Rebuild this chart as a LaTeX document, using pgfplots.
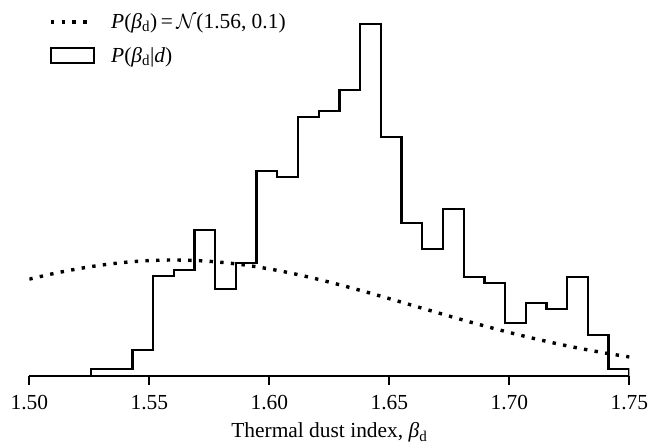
\documentclass[border=0pt]{standalone}
\usepackage{pgfplots}
\pgfplotsset{compat=1.18}
\usepackage{fontspec}
\setmainfont{Liberation Serif}

\newcommand{\bigfont}{\fontsize{21.5}{24}\selectfont}

\pgfplotsset{
    priorleg/.style={legend image code/.code={\draw[##1] (0bp,0bp) -- (41bp,0bp);}},
    histleg/.style={legend image code/.code={\draw[black, line width=2.4bp] (0bp,-7.5bp) rectangle (43bp,7.5bp);}},
}

\begin{document}
\begin{tikzpicture}
\begin{axis}[
    scale only axis,
    width=600bp, height=376bp,
    xmin=1.5, xmax=1.75,
    ymin=0, ymax=12.93,
    axis x line*=bottom,
    axis y line=none,
    ytick=\empty,
    xtick={1.50,1.55,1.60,1.65,1.70,1.75},
    xticklabel style={/pgf/number format/.cd, fixed, fixed zerofill, precision=2, assume math mode=true},
    tick label style={font=\bigfont, yshift=-7bp},
    label style={font=\bigfont},
    xlabel style={yshift=-6bp},
    tick align=outside,
    major tick length=9bp,
    x axis line style={line width=2.2bp, -},
    tick style={line width=2.2bp, black},
    xlabel={Thermal dust index, \textit{β}\textsubscript{d}},
    legend style={draw=none, fill=none, font=\bigfont,
        at={(axis description cs:0.033,0.967)}, anchor=north west,
        inner sep=0pt, row sep=15bp,
        nodes={inner sep=1bp},
        /tikz/every odd column/.append style={column sep=15bp}},
    legend cell align=left,
]

% prior N(1.56, 0.1)
\addplot[black, line width=3.4bp, dash pattern=on 3.4bp off 7.3bp, smooth, priorleg]
coordinates {
    (1.50,3.332) (1.51,3.521) (1.52,3.683) (1.53,3.814) (1.54,3.910)
    (1.55,3.969) (1.56,3.989) (1.57,3.969) (1.58,3.910) (1.59,3.814)
    (1.60,3.683) (1.61,3.521) (1.62,3.332) (1.63,3.122) (1.64,2.897)
    (1.65,2.661) (1.66,2.420) (1.67,2.179) (1.68,1.942) (1.69,1.714)
    (1.70,1.497) (1.71,1.295) (1.72,1.109) (1.73,0.940) (1.74,0.789)
    (1.75,0.656)
};
\addlegendentry{\textit{P}(\textit{β}\textsubscript{d})\,=\,$\mathcal{N}$(1.56, 0.1)}

% posterior histogram
\addplot[black, line width=2.3bp, const plot, histleg]
coordinates {
    (1.52570,0)
    (1.52570,0.241) (1.53433,0.241) (1.54296,0.904) (1.55158,3.428)
    (1.56021,3.645) (1.56883,5.021) (1.57746,2.981) (1.58609,3.896)
    (1.59472,7.060) (1.60334,6.853) (1.61197,8.896) (1.62060,9.113)
    (1.62922,9.835) (1.63785,12.105) (1.64648,8.229) (1.65510,5.272)
    (1.66373,4.357) (1.67236,5.732) (1.68098,3.415) (1.68961,3.188)
    (1.69824,1.833) (1.70686,2.500) (1.71549,2.294) (1.72412,3.415)
    (1.73275,1.403) (1.74137,0.230) (1.75000,0.230)
    (1.75000,0)
};
\addlegendentry{\textit{P}(\textit{β}\textsubscript{d}|\textit{d})}

\end{axis}
\path (-29.3bp,-67bp) rectangle (636.7bp,376bp);
\end{tikzpicture}
\end{document}
